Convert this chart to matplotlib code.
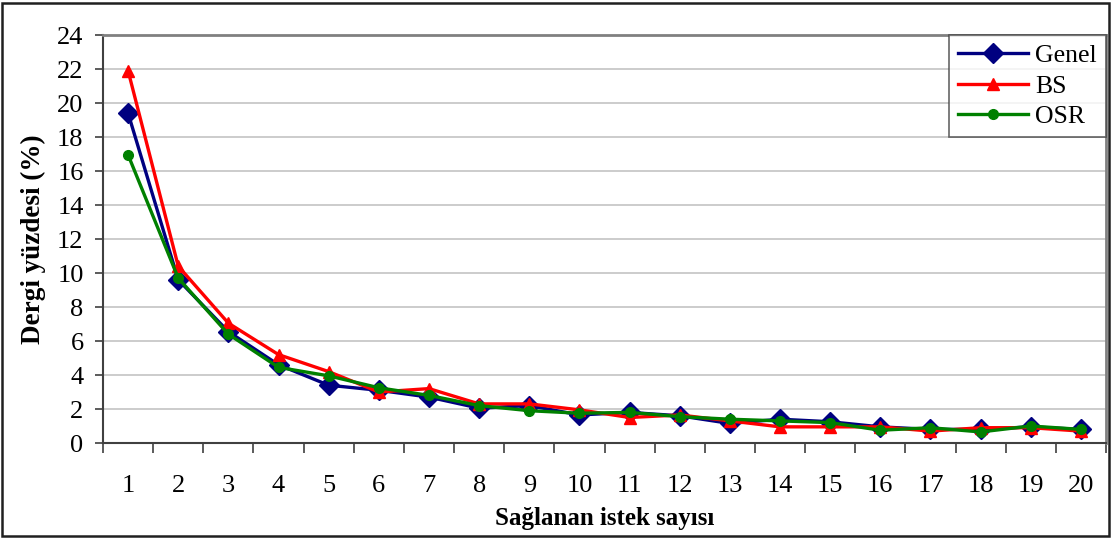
import matplotlib
matplotlib.use("Agg")
import matplotlib.pyplot as plt
from matplotlib.patches import Rectangle
from matplotlib.ticker import FixedLocator, NullFormatter

# Number of satisfied requests (category axis)
requests = list(range(1, 21))

# Share of journals (%) per group
genel = [19.4, 9.6, 6.55, 4.6, 3.4, 3.1, 2.7, 2.05, 2.2, 1.65,
         1.8, 1.6, 1.15, 1.4, 1.25, 0.95, 0.8, 0.8, 0.95, 0.8]
bs = [21.9, 10.4, 7.05, 5.2, 4.2, 3.0, 3.2, 2.3, 2.3, 1.95,
      1.5, 1.65, 1.3, 0.95, 0.95, 0.95, 0.7, 0.9, 0.9, 0.7]
osr = [16.95, 9.7, 6.4, 4.45, 3.95, 3.25, 2.8, 2.2, 1.9, 1.75,
       1.8, 1.55, 1.4, 1.3, 1.2, 0.75, 0.9, 0.65, 1.0, 0.8]

y_ticks = list(range(0, 25, 2))
series_names = ["Genel", "BS", "OSR"]

plt.rcParams["font.family"] = ["Liberation Serif", "DejaVu Serif"]

fig = plt.figure(figsize=(11.12, 5.39), dpi=100)
ax = fig.add_axes([103 / 1112, 1 - 443 / 539, 1003 / 1112, 408 / 539])

ax.plot(requests, genel, color="#000080", lw=2.4, marker="D", ms=10.5,
        label=series_names[0], zorder=3)
ax.plot(requests, bs, color="#ff0000", lw=2.4, marker="^", ms=8,
        label=series_names[1], zorder=4)
ax.plot(requests, osr, color="#008000", lw=2.4, marker="o", ms=7,
        label=series_names[2], zorder=5)

ax.set_xlim(0.5, 20.5)
ax.set_ylim(0, 24)

# Category labels centred, tick marks between categories
ax.set_xticks(requests)
ax.set_xticklabels([str(r) for r in requests], fontsize=19)
ax.tick_params(axis="x", which="major", length=0, pad=23)
ax.xaxis.set_minor_locator(FixedLocator([i + 0.5 for i in range(0, 21)]))
ax.xaxis.set_minor_formatter(NullFormatter())
ax.tick_params(axis="x", which="minor", length=7, width=1.2, color="#404040",
               direction="out")

ax.set_yticks(y_ticks)
ax.set_yticklabels([str(v) for v in y_ticks], fontsize=19)
ax.tick_params(axis="y", length=6, width=1.2, color="#404040", pad=8)

ax.grid(axis="y", color="#c8c8c8", lw=1.3, zorder=0)
ax.set_axisbelow(True)

for side in ("left", "bottom"):
    ax.spines[side].set_color("#404040")
    ax.spines[side].set_linewidth(1.5)
for side in ("top", "right"):
    ax.spines[side].set_color("#808080")
    ax.spines[side].set_linewidth(2)

ax.set_xlabel("Sağlanan istek sayısı", fontsize=18, fontweight="bold", labelpad=7)
ax.set_ylabel("Dergi yüzdesi (%)", fontsize=19.5, fontweight="bold", labelpad=8)

leg = ax.legend(loc="upper right", bbox_to_anchor=(1.0, 1.0), borderaxespad=0.0,
                fontsize=18.5, frameon=True, fancybox=False, handlelength=2.7,
                handletextpad=0.3, labelspacing=0.3, borderpad=0.35)
leg.get_frame().set_edgecolor("#404040")
leg.get_frame().set_linewidth(1.2)

# Chart border around the whole figure
fig.patches.append(Rectangle((2 / 1112, 3 / 539), 1 - 5 / 1112, 1 - 6 / 539,
                             transform=fig.transFigure, fill=False,
                             edgecolor="#202020", lw=1.8))

fig.savefig("out.png", dpi=100)
